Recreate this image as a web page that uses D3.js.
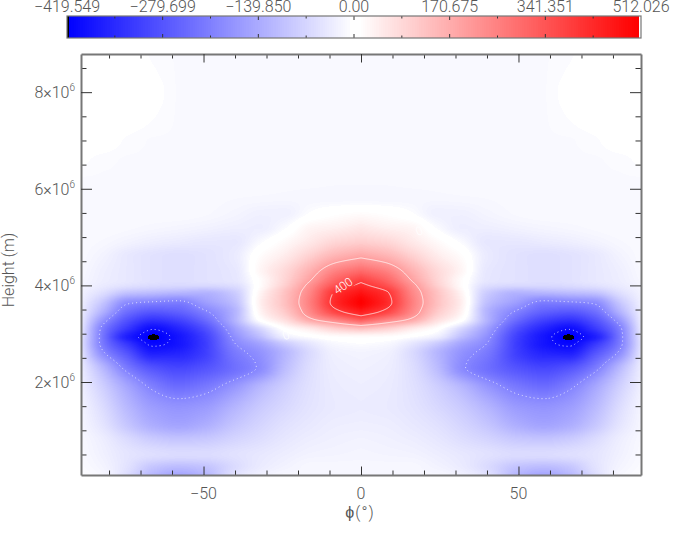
<!DOCTYPE html>
<html>
<head>
<meta charset="utf-8">
<script src="https://cdn.jsdelivr.net/npm/d3@7"></script>
<style>
  body { margin: 0; background: #fff; }
  text { font-family: "Roboto", "Liberation Sans", sans-serif; font-weight: 300; fill: #555; }
</style>
</head>
<body>
<div id="chart"></div>
<script>
// Values, one half only: the field is mirrored about phi = 0
const phiCols = [0, 8, 16, 24, 32, 40, 50, 58, 66, 74, 82, 89];
const heightRows = [0.08, 0.25, 0.5, 0.8, 1.1, 1.5, 1.9, 2.3, 2.6, 2.8, 2.93, 3.1, 3.3, 3.45, 3.65,
  3.85, 4.0, 4.1, 4.3, 4.6, 4.9, 5.2, 5.5, 5.8, 6.2, 6.6, 7.0, 7.5, 8.0, 8.4, 8.8];
const fieldRows = [
  [-15, -15, -15, -15, -25, -50, -125, -150, -120, -60, -15, -5],
  [-15, -15, -15, -22, -35, -60, -100, -110, -95, -50, -20, -8],
  [-18, -20, -22, -30, -40, -50, -60, -60, -55, -45, -25, -10],
  [-22, -25, -30, -40, -55, -70, -90, -95, -85, -60, -30, -12],
  [-28, -30, -38, -50, -70, -95, -135, -150, -135, -95, -45, -15],
  [-33, -36, -46, -65, -90, -125, -170, -180, -165, -120, -60, -18],
  [-30, -34, -50, -80, -120, -172, -222, -240, -210, -150, -80, -25],
  [-25, -30, -55, -110, -192, -235, -285, -305, -285, -222, -120, -30],
  [-20, -25, -60, -120, -180, -220, -320, -360, -370, -285, -190, -40],
  [-5, -12, -40, -85, -150, -200, -325, -385, -409, -335, -220, -45],
  [15, 12, -5, -30, -110, -185, -320, -385, -419.5, -372, -225, -40],
  [130, 100, 50, 8, -70, -160, -295, -360, -398, -330, -215, -35],
  [340, 265, 190, 80, 8, -125, -245, -305, -330, -280, -170, -30],
  [450, 375, 245, 115, 30, -125, -212, -260, -275, -240, -130, -28],
  [508, 430, 265, 135, 40, -105, -165, -212, -205, -190, -95, -25],
  [470, 410, 250, 130, 30, -85, -125, -120, -110, -100, -55, -22],
  [420, 350, 225, 105, 15, -55, -65, -65, -60, -50, -35, -18],
  [385, 315, 200, 95, 15, -42, -50, -55, -50, -40, -30, -15],
  [300, 255, 165, 85, 28, -40, -50, -55, -50, -40, -28, -12],
  [190, 160, 105, 50, 15, -35, -50, -55, -50, -40, -22, -10],
  [105, 90, 55, 22, -10, -40, -40, -35, -30, -22, -14, -10],
  [55, 40, 30, -8, -30, -28, -22, -18, -15, -12, -10, -10],
  [15, 8, -5, -25, -25, -18, -12, -10, -10, -10, -10, -10],
  [-15, -15, -15, -15, -14, -13, -11, -10, -10, -10, -10, -10],
  [-12, -12, -11, -11, -10, -10, -10, -10, -10, -10, -10, -10],
  [-10, -10, -10, -10, -10, -10, -10, -10, -10, -10, -9, -4],
  [-10, -10, -10, -10, -10, -10, -10, -10, -10, -8, 0, 0],
  [-10, -10, -10, -10, -10, -10, -10, -10, -6, 0, 0, 0],
  [-10, -10, -10, -10, -10, -10, -10, -10, -3, 0, 0, 0],
  [-10, -10, -10, -10, -10, -10, -10, -10, -5.5, 0, 0, 0],
  [-10, -10, -10, -10, -10, -10, -10, -10, -8, 0, 0, 0]
];

const barTicks = [-419.549, -279.699, -139.850, 0, 170.675, 341.351, 512.026];
const barLabels = ["\u2212419.549", "\u2212279.699", "\u2212139.850", "0.00", "170.675", "341.351", "512.026"];
const xMajor = [-50, 0, 50];
const xMinor = [-80, -70, -60, -40, -30, -20, -10, 10, 20, 30, 40, 60, 70, 80];
const yMajor = [2, 4, 6, 8];
const yMinor = [0.5, 1, 1.5, 2.5, 3, 3.5, 4.5, 5, 5.5, 6.5, 7, 7.5, 8.5];
const contourSolid = [0, 200, 400];
const contourDotted = [-400, -200];

// Layout
const margin = {top: 54, left: 81, right: 34, bottom: 65},
    width = 675 - margin.left - margin.right,
    height = 540 - margin.top - margin.bottom;
const bar = {left: 67, right: 641, top: 16, bottom: 38};
const frameColor = "#777", tickColor = "#333";

const svg = d3.select("#chart").append("svg")
    .attr("width", 675)
    .attr("height", 540)
    .style("display", "block");

const x = d3.scaleLinear().domain([-88.9, 88.9]).range([0, width]);
const y = d3.scaleLinear().domain([0.075, 8.79]).range([height, 0]);

// Colour table: lowest entry black, highest white, blue-white-red between, small white zone at 0
const colorTable = d3.range(256).map(i => {
  if (i === 0) return "rgb(0,0,0)";
  if (i === 255 || (i >= 126 && i <= 129)) return "rgb(255,255,255)";
  if (i < 126) { const c = Math.round(255 * i / 127); return `rgb(${c},${c},255)`; }
  const c = Math.round(255 * (254 - i) / 124);
  return `rgb(255,${c},${c})`;
});
const indexScale = d3.scaleLinear().domain([-419.549, 0, 512.026]).range([0, 128, 256]).clamp(true);

// Shape-preserving spline through one row or column of the table
function spline(xs, ys) {
  const n = xs.length;
  const d = d3.range(n - 1).map(i => (ys[i + 1] - ys[i]) / (xs[i + 1] - xs[i]));
  const m = d3.range(n).map(i => {
    if (i === 0) return d[0];
    if (i === n - 1) return d[n - 2];
    if (d[i - 1] * d[i] <= 0) return 0;
    return 2 * d[i - 1] * d[i] / (d[i - 1] + d[i]);
  });
  return v => {
    const i = Math.max(0, Math.min(n - 2, d3.bisectRight(xs, v) - 1));
    const h = xs[i + 1] - xs[i], t = Math.max(0, Math.min(1, (v - xs[i]) / h));
    return (2 * t * t * t - 3 * t * t + 1) * ys[i] + (t * t * t - 2 * t * t + t) * h * m[i]
      + (-2 * t * t * t + 3 * t * t) * ys[i + 1] + (t * t * t - t * t) * h * m[i + 1];
  };
}

// Sample the table at every plot pixel
const field = new Float64Array(width * height);
const colSplines = phiCols.map((p, j) => spline(heightRows, fieldRows.map(r => r[j])));
for (let py = 0; py < height; py++) {
  const h = y.invert(py + 0.5);
  const rowSpline = spline(phiCols, colSplines.map(s => s(h)));
  for (let px = 0; px < width; px++) {
    field[py * width + px] = rowSpline(Math.abs(x.invert(px + 0.5)));
  }
}

// Paint the field to an image
const canvas = document.createElement("canvas");
canvas.width = width;
canvas.height = height;
const ctx = canvas.getContext("2d");
const img = ctx.createImageData(width, height);
const rgbTable = colorTable.map(c => d3.rgb(c));
field.forEach((v, i) => {
  const c = rgbTable[Math.min(255, Math.floor(indexScale(v)))];
  img.data[i * 4] = c.r; img.data[i * 4 + 1] = c.g; img.data[i * 4 + 2] = c.b; img.data[i * 4 + 3] = 255;
});
ctx.putImageData(img, 0, 0);

const plot = svg.append("g").attr("transform", `translate(${margin.left},${margin.top})`);
plot.append("image").attr("width", width).attr("height", height).attr("href", canvas.toDataURL());

// Contours. Labels cut a gap in the line under them
const defs = svg.append("defs");
defs.append("clipPath").attr("id", "plot-clip").append("rect")
    .attr("x", 1).attr("y", 1).attr("width", width - 2).attr("height", height - 2);
const gapMask = defs.append("mask").attr("id", "label-gap").attr("maskUnits", "userSpaceOnUse")
    .attr("x", 0).attr("y", 0).attr("width", width).attr("height", height);
gapMask.append("rect").attr("width", width).attr("height", height).attr("fill", "#fff");

const contourLabels = [
  {text: "400", phi: -5.7, h: 3.99, angle: -35, size: 12},
  {text: "0", phi: -23.8, h: 2.97, angle: -20, size: 12},
  {text: "0", phi: 18.5, h: 5.13, angle: -20, size: 12}
];
contourLabels.forEach(d => {
  gapMask.append("rect").attr("x", -d.text.length * 4.5).attr("y", -6).attr("width", d.text.length * 9).attr("height", 12)
      .attr("fill", "#000")
      .attr("transform", `translate(${x(d.phi)},${y(d.h)}) rotate(${d.angle})`);
});

const contourGen = d3.contours().size([width, height]).smooth(true);
const contourPath = d3.geoPath();
const contourLayer = plot.append("g").attr("clip-path", "url(#plot-clip)").append("g").attr("mask", "url(#label-gap)");
contourSolid.forEach(t => {
  contourLayer.append("path").attr("d", contourPath(contourGen.contour(field, t)))
      .attr("fill", "none").attr("stroke", "#fff").attr("stroke-opacity", 0.75).attr("stroke-width", 1);
});
contourDotted.forEach(t => {
  contourLayer.append("path").attr("d", contourPath(contourGen.contour(field, t)))
      .attr("fill", "none").attr("stroke", "#fff").attr("stroke-opacity", 0.8)
      .attr("stroke-width", 1).attr("stroke-dasharray", "1 3");
});
plot.selectAll(".contour-label").data(contourLabels).enter().append("text")
    .attr("class", "contour-label")
    .attr("transform", d => `translate(${x(d.phi)},${y(d.h)}) rotate(${d.angle})`)
    .attr("text-anchor", "middle").attr("dy", "0.35em")
    .attr("font-size", d => d.size)
    .style("fill", "#fff")
    .text(d => d.text);

// Axes: minor ticks, then majors with the frame line
function drawAxis(axisFn, scale, transform, major, minor, majorLen, minorLen) {
  const g = svg.append("g").attr("transform", transform);
  g.append("g").call(axisFn(scale).tickValues(minor).tickSize(minorLen).tickFormat("")).select(".domain").remove();
  g.append("g").call(axisFn(scale).tickValues(major).tickSize(majorLen).tickSizeOuter(0).tickFormat(""));
  g.selectAll(".tick line").attr("stroke", tickColor);
  g.selectAll(".domain").attr("stroke", frameColor).attr("stroke-width", 2);
  return g;
}
drawAxis(d3.axisBottom, x, `translate(${margin.left},${margin.top + height})`, xMajor, xMinor, -8.5, -4.5);
drawAxis(d3.axisTop, x, `translate(${margin.left},${margin.top})`, xMajor, xMinor, -8.5, -4.5);
drawAxis(d3.axisLeft, y, `translate(${margin.left},${margin.top})`, yMajor, yMinor, -11, -5.5);
drawAxis(d3.axisRight, y, `translate(${margin.left + width},${margin.top})`, yMajor, yMinor, -11, -5.5);

// Tick labels
svg.selectAll(".x-label").data(xMajor).enter().append("text")
    .attr("class", "x-label")
    .attr("x", d => margin.left + x(d))
    .attr("y", 499)
    .attr("text-anchor", "middle")
    .attr("font-size", 16)
    .text(d => (d < 0 ? "\u2212" : "") + Math.abs(d));

const yLabels = svg.selectAll(".y-label").data(yMajor).enter().append("text")
    .attr("class", "y-label")
    .attr("x", 75)
    .attr("y", d => margin.top + y(d) + 6)
    .attr("text-anchor", "end")
    .attr("font-size", 16)
    .text(d => d + "\u00d710");
yLabels.append("tspan").attr("dy", -7).attr("font-size", 10).text("6");

svg.append("text")
    .attr("transform", "translate(13.5,270) rotate(-90)")
    .attr("text-anchor", "middle")
    .attr("font-size", 16)
    .text("Height (m)");
svg.append("text")
    .attr("x", 360).attr("y", 518)
    .attr("text-anchor", "middle")
    .attr("font-size", 16)
    .attr("letter-spacing", 1)
    .text("\u03d5(\u00b0)");

// Colour bar: one rect per colour table entry
const barBand = d3.scaleBand().domain(d3.range(256)).range([bar.left, bar.right]);
svg.append("g").attr("shape-rendering", "crispEdges").selectAll("rect").data(colorTable).enter().append("rect")
    .attr("x", (d, i) => barBand(i))
    .attr("y", bar.top)
    .attr("width", barBand.bandwidth() + 1)
    .attr("height", bar.bottom - bar.top)
    .attr("fill", d => d);

const barScale = d3.scalePoint().domain(barTicks).range([bar.left, bar.right]);
const barMid = d3.pairs(barTicks).map(([a, b]) => (barScale(a) + barScale(b)) / 2);
[[bar.top, 4, 2.5], [bar.bottom, -4, -2.5]].forEach(([yy, major, minor]) => {
  const g = svg.append("g").attr("stroke", tickColor);
  g.selectAll(".major").data(barTicks.slice(1, -1)).enter().append("line")
      .attr("x1", d => barScale(d)).attr("x2", d => barScale(d)).attr("y1", yy).attr("y2", yy + major);
  g.selectAll(".minor").data(barMid).enter().append("line")
      .attr("x1", d => d).attr("x2", d => d).attr("y1", yy).attr("y2", yy + minor);
});
svg.append("rect")
    .attr("x", bar.left).attr("y", bar.top)
    .attr("width", bar.right - bar.left).attr("height", bar.bottom - bar.top)
    .attr("fill", "none").attr("stroke", frameColor).attr("stroke-width", 1.2);

// The top labels sit just below the page edge so that no digit is cut
svg.selectAll(".bar-label").data(barTicks).enter().append("text")
    .attr("class", "bar-label")
    .attr("x", d => barScale(d))
    .attr("y", 12)
    .attr("text-anchor", "middle")
    .attr("font-size", 16)
    .text((d, i) => barLabels[i]);
</script>
</body>
</html>
